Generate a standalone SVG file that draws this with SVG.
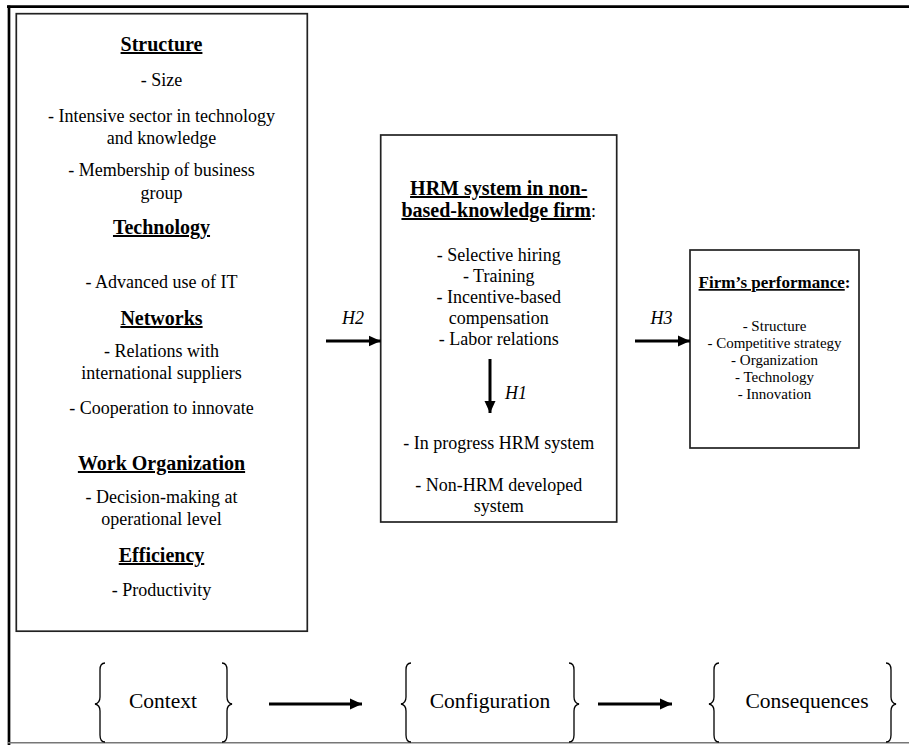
<svg xmlns="http://www.w3.org/2000/svg" width="909" height="745" viewBox="0 0 909 745">
<style>
.t{font-family:"Liberation Serif","Times New Roman",serif;font-size:18px;text-anchor:middle;fill:#000}
.h{font-weight:bold;font-size:20px}
.u{text-decoration:underline}
.i{font-style:italic}
.r{font-size:15px}
.rh{font-size:17px}
.box{fill:#fff;stroke:#222;stroke-width:1.7}
.ln{stroke:#000;stroke-width:3;fill:none}
.br{stroke:#000;stroke-width:1.3;fill:none}
.big{font-size:21.5px}
</style>
<defs>
<marker id="ah" markerWidth="12" markerHeight="12" refX="12" refY="6" orient="auto" markerUnits="userSpaceOnUse">
<path d="M0,0.5 L12,6 L0,11.5 Z" fill="#000"/>
</marker>
</defs>
<rect width="909" height="745" fill="#fff"/>
<g id="frame">
<line x1="7" y1="6.7" x2="909" y2="6.7" stroke="#000" stroke-width="2.7"/>
<line x1="9" y1="5.5" x2="9" y2="745" stroke="#000" stroke-width="2.7"/>
<line x1="8" y1="742.8" x2="909" y2="742.8" stroke="#777" stroke-width="1.6"/>
</g>
<g id="context-box">
<rect class="box" x="16.3" y="13.7" width="291" height="617.5"/>
<text class="t h u" x="161.5" y="51">Structure</text>
<text class="t" x="161.5" y="86">- Size</text>
<text class="t" x="161.5" y="122">- Intensive sector in technology</text>
<text class="t" x="161.5" y="144">and knowledge</text>
<text class="t" x="161.5" y="176">- Membership of business</text>
<text class="t" x="161.5" y="199">group</text>
<text class="t h u" x="161.5" y="234">Technology</text>
<text class="t" x="161.5" y="288">- Advanced use of IT</text>
<text class="t h u" x="161.5" y="325">Networks</text>
<text class="t" x="161.5" y="357">- Relations with</text>
<text class="t" x="161.5" y="379">international suppliers</text>
<text class="t" x="161.5" y="414">- Cooperation to innovate</text>
<text class="t h u" x="161.5" y="470">Work Organization</text>
<text class="t" x="161.5" y="503">- Decision-making at</text>
<text class="t" x="161.5" y="525">operational level</text>
<text class="t h u" x="161.5" y="562">Efficiency</text>
<text class="t" x="161.5" y="596">- Productivity</text>
</g>
<g id="hrm-box">
<rect class="box" x="380.7" y="135" width="236" height="387"/>
<text class="t h u" x="498.7" y="195">HRM system in non-</text>
<text class="t" x="498.7" y="217"><tspan class="h u">based-knowledge firm</tspan>:</text>
<text class="t" x="498.7" y="261">- Selective hiring</text>
<text class="t" x="498.7" y="282">- Training</text>
<text class="t" x="498.7" y="303">- Incentive-based</text>
<text class="t" x="498.7" y="324">compensation</text>
<text class="t" x="498.7" y="345">- Labor relations</text>
<text class="t i" x="516" y="399">H1</text>
<text class="t" x="498.7" y="449">- In progress HRM system</text>
<text class="t" x="498.7" y="491">- Non-HRM developed</text>
<text class="t" x="498.7" y="512">system</text>
</g>
<g id="performance-box">
<rect class="box" x="690" y="250" width="169" height="198"/>
<text class="t h rh" x="774.5" y="288"><tspan class="u">Firm’s performance</tspan>:</text>
<text class="t r" x="774.5" y="331">- Structure</text>
<text class="t r" x="774.5" y="348">- Competitive strategy</text>
<text class="t r" x="774.5" y="365">- Organization</text>
<text class="t r" x="774.5" y="382">- Technology</text>
<text class="t r" x="774.5" y="399">- Innovation</text>
</g>
<g id="labels">
<text class="t i" x="353" y="324">H2</text>
<text class="t i" x="661.5" y="324">H3</text>
</g>
<g id="phases">
<text class="t big" x="163" y="708">Context</text>
<text class="t big" x="490" y="708">Configuration</text>
<text class="t big" x="807" y="708">Consequences</text>
<path class="br" d="M105,663 Q100,663 100,670 L100,697 Q100,703 95,704 Q100,705 100,711 L100,735 Q100,742 105,742"/>
<path class="br" d="M222,663 Q227,663 227,670 L227,697 Q227,703 232,704 Q227,705 227,711 L227,735 Q227,742 222,742"/>
<path class="br" d="M411,663 Q406,663 406,670 L406,697 Q406,703 401,704 Q406,705 406,711 L406,735 Q406,742 411,742"/>
<path class="br" d="M569,663 Q574,663 574,670 L574,697 Q574,703 579,704 Q574,705 574,711 L574,735 Q574,742 569,742"/>
<path class="br" d="M719,663 Q714,663 714,670 L714,697 Q714,703 709,704 Q714,705 714,711 L714,735 Q714,742 719,742"/>
<path class="br" d="M886,663 Q891,663 891,670 L891,697 Q891,703 896,704 Q891,705 891,711 L891,735 Q891,742 886,742"/>
</g>
<g id="connectors">
<line class="ln" x1="326" y1="341" x2="380.7" y2="341" marker-end="url(#ah)"/>
<line class="ln" x1="635" y1="341" x2="690" y2="341" marker-end="url(#ah)"/>
<line class="ln" x1="490" y1="359" x2="490" y2="413" marker-end="url(#ah)"/>
<line class="ln" x1="269" y1="704" x2="362" y2="704" marker-end="url(#ah)"/>
<line class="ln" x1="598" y1="704" x2="672" y2="704" marker-end="url(#ah)"/>
</g>
</svg>
